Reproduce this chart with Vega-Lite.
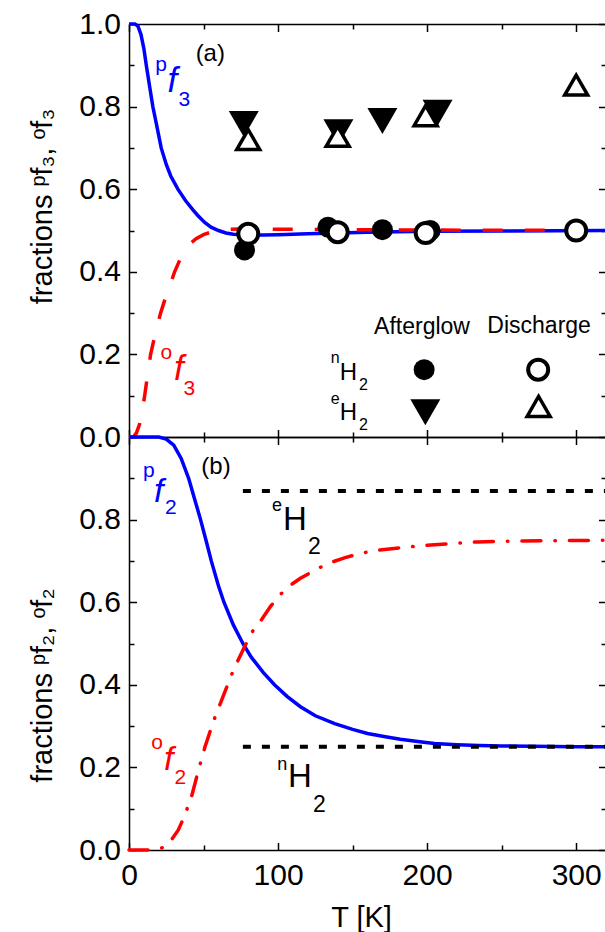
{
  "$schema": "https://vega.github.io/schema/vega-lite/v6.json",
  "padding": {"left": 28, "top": 9, "right": 0, "bottom": 0},
  "background": "white",
  "config": {
    "view": {"stroke": null},
    "font": "Liberation Sans",
    "axis": {
      "grid": false, "domainColor": "black", "domainWidth": 1.5, "tickColor": "black", "tickWidth": 1.5,
      "labelFont": "Liberation Sans", "labelFontSize": 30, "labelColor": "black",
      "labelFlush": false, "labelOverlap": false, "labelBound": false,
      "titleFont": "Liberation Sans", "titleFontSize": 29, "titleFontWeight": "normal", "titleColor": "black"
    }
  },
  "datasets": {
    "curves": [
      {"curve": "pf3", "T": 0, "f": 1}, {"curve": "pf3", "T": 4, "f": 1}, {"curve": "pf3", "T": 6, "f": 0.995}, {"curve": "pf3", "T": 8, "f": 0.975},
      {"curve": "pf3", "T": 10, "f": 0.94}, {"curve": "pf3", "T": 11.6, "f": 0.9}, {"curve": "pf3", "T": 14, "f": 0.845}, {"curve": "pf3", "T": 16, "f": 0.8},
      {"curve": "pf3", "T": 18, "f": 0.765}, {"curve": "pf3", "T": 21.6, "f": 0.7}, {"curve": "pf3", "T": 25, "f": 0.66}, {"curve": "pf3", "T": 28, "f": 0.632},
      {"curve": "pf3", "T": 32.8, "f": 0.6}, {"curve": "pf3", "T": 38, "f": 0.572}, {"curve": "pf3", "T": 42.9, "f": 0.55}, {"curve": "pf3", "T": 46, "f": 0.537},
      {"curve": "pf3", "T": 50.6, "f": 0.52}, {"curve": "pf3", "T": 55, "f": 0.508}, {"curve": "pf3", "T": 60, "f": 0.5}, {"curve": "pf3", "T": 65, "f": 0.494},
      {"curve": "pf3", "T": 70, "f": 0.491}, {"curve": "pf3", "T": 80, "f": 0.489}, {"curve": "pf3", "T": 90, "f": 0.489}, {"curve": "pf3", "T": 100, "f": 0.49},
      {"curve": "pf3", "T": 120, "f": 0.492}, {"curve": "pf3", "T": 140, "f": 0.494}, {"curve": "pf3", "T": 160, "f": 0.496}, {"curve": "pf3", "T": 180, "f": 0.497},
      {"curve": "pf3", "T": 200, "f": 0.498}, {"curve": "pf3", "T": 250, "f": 0.499}, {"curve": "pf3", "T": 320, "f": 0.5},
      {"curve": "of3", "T": 0, "f": 0}, {"curve": "of3", "T": 3, "f": 0}, {"curve": "of3", "T": 5, "f": 0.01}, {"curve": "of3", "T": 7, "f": 0.03},
      {"curve": "of3", "T": 9, "f": 0.065}, {"curve": "of3", "T": 10.5, "f": 0.1}, {"curve": "of3", "T": 12, "f": 0.138}, {"curve": "of3", "T": 14.5, "f": 0.2},
      {"curve": "of3", "T": 17, "f": 0.24}, {"curve": "of3", "T": 19, "f": 0.27}, {"curve": "of3", "T": 21.2, "f": 0.3}, {"curve": "of3", "T": 24, "f": 0.332},
      {"curve": "of3", "T": 27, "f": 0.362}, {"curve": "of3", "T": 30.6, "f": 0.4}, {"curve": "of3", "T": 34, "f": 0.428}, {"curve": "of3", "T": 37, "f": 0.45},
      {"curve": "of3", "T": 41, "f": 0.468}, {"curve": "of3", "T": 45, "f": 0.48}, {"curve": "of3", "T": 50, "f": 0.49}, {"curve": "of3", "T": 55, "f": 0.496},
      {"curve": "of3", "T": 60, "f": 0.5}, {"curve": "of3", "T": 66, "f": 0.503}, {"curve": "of3", "T": 80, "f": 0.504}, {"curve": "of3", "T": 100, "f": 0.503},
      {"curve": "of3", "T": 150, "f": 0.502}, {"curve": "of3", "T": 200, "f": 0.501}, {"curve": "of3", "T": 320, "f": 0.5},
      {"curve": "pf2", "T": 0, "f": 1}, {"curve": "pf2", "T": 20, "f": 1}, {"curve": "pf2", "T": 25, "f": 0.995}, {"curve": "pf2", "T": 30, "f": 0.98},
      {"curve": "pf2", "T": 35, "f": 0.948}, {"curve": "pf2", "T": 40, "f": 0.9}, {"curve": "pf2", "T": 44, "f": 0.85}, {"curve": "pf2", "T": 48, "f": 0.8},
      {"curve": "pf2", "T": 52, "f": 0.745}, {"curve": "pf2", "T": 55.2, "f": 0.7}, {"curve": "pf2", "T": 60, "f": 0.64}, {"curve": "pf2", "T": 63.7, "f": 0.6},
      {"curve": "pf2", "T": 70, "f": 0.545}, {"curve": "pf2", "T": 76.4, "f": 0.5}, {"curve": "pf2", "T": 82, "f": 0.467}, {"curve": "pf2", "T": 90, "f": 0.43},
      {"curve": "pf2", "T": 97.6, "f": 0.4}, {"curve": "pf2", "T": 106, "f": 0.372}, {"curve": "pf2", "T": 115, "f": 0.347}, {"curve": "pf2", "T": 125, "f": 0.325},
      {"curve": "pf2", "T": 138, "f": 0.306}, {"curve": "pf2", "T": 150, "f": 0.292}, {"curve": "pf2", "T": 160, "f": 0.282}, {"curve": "pf2", "T": 172, "f": 0.274},
      {"curve": "pf2", "T": 182, "f": 0.268}, {"curve": "pf2", "T": 195, "f": 0.262}, {"curve": "pf2", "T": 205, "f": 0.258}, {"curve": "pf2", "T": 220, "f": 0.255},
      {"curve": "pf2", "T": 235, "f": 0.253}, {"curve": "pf2", "T": 250, "f": 0.252}, {"curve": "pf2", "T": 270, "f": 0.251}, {"curve": "pf2", "T": 300, "f": 0.25},
      {"curve": "pf2", "T": 320, "f": 0.25},
      {"curve": "of2", "T": 0, "f": 0}, {"curve": "of2", "T": 15, "f": 0}, {"curve": "of2", "T": 20, "f": 0.002}, {"curve": "of2", "T": 24, "f": 0.008},
      {"curve": "of2", "T": 28, "f": 0.022}, {"curve": "of2", "T": 33, "f": 0.048}, {"curve": "of2", "T": 37, "f": 0.08}, {"curve": "of2", "T": 42, "f": 0.13},
      {"curve": "of2", "T": 46, "f": 0.185}, {"curve": "of2", "T": 51, "f": 0.25}, {"curve": "of2", "T": 57, "f": 0.315}, {"curve": "of2", "T": 63, "f": 0.371},
      {"curve": "of2", "T": 70, "f": 0.435}, {"curve": "of2", "T": 77.5, "f": 0.492}, {"curve": "of2", "T": 83, "f": 0.53}, {"curve": "of2", "T": 89, "f": 0.558},
      {"curve": "of2", "T": 95, "f": 0.59}, {"curve": "of2", "T": 100, "f": 0.613}, {"curve": "of2", "T": 107, "f": 0.638}, {"curve": "of2", "T": 115, "f": 0.658},
      {"curve": "of2", "T": 125, "f": 0.678}, {"curve": "of2", "T": 133, "f": 0.693}, {"curve": "of2", "T": 145, "f": 0.708}, {"curve": "of2", "T": 155, "f": 0.718},
      {"curve": "of2", "T": 167, "f": 0.726}, {"curve": "of2", "T": 185, "f": 0.733}, {"curve": "of2", "T": 200, "f": 0.738}, {"curve": "of2", "T": 220, "f": 0.743},
      {"curve": "of2", "T": 234, "f": 0.746}, {"curve": "of2", "T": 260, "f": 0.748}, {"curve": "of2", "T": 290, "f": 0.749}, {"curve": "of2", "T": 320, "f": 0.75},
      {"curve": "eH2", "T": 76.4, "f": 0.869}, {"curve": "eH2", "T": 320, "f": 0.869},
      {"curve": "nH2", "T": 76.4, "f": 0.25}, {"curve": "nH2", "T": 320, "f": 0.25}
    ],
    "points": [
      {"source": "Afterglow", "gas": "nH2", "key": false, "T": 77.5, "f": 0.453},
      {"source": "Afterglow", "gas": "nH2", "key": false, "T": 133.5, "f": 0.508},
      {"source": "Afterglow", "gas": "nH2", "key": false, "T": 170, "f": 0.502},
      {"source": "Afterglow", "gas": "nH2", "key": false, "T": 202, "f": 0.5},
      {"source": "Afterglow", "gas": "nH2", "key": true, "T": 198, "f": 0.163},
      {"source": "Discharge", "gas": "nH2", "key": false, "T": 80, "f": 0.492},
      {"source": "Discharge", "gas": "nH2", "key": false, "T": 140, "f": 0.496},
      {"source": "Discharge", "gas": "nH2", "key": false, "T": 199, "f": 0.494},
      {"source": "Discharge", "gas": "nH2", "key": false, "T": 300, "f": 0.5},
      {"source": "Discharge", "gas": "nH2", "key": true, "T": 274.5, "f": 0.163},
      {"source": "Afterglow", "gas": "eH2", "key": false, "T": 77, "f": 0.758},
      {"source": "Afterglow", "gas": "eH2", "key": false, "T": 140.5, "f": 0.738},
      {"source": "Afterglow", "gas": "eH2", "key": false, "T": 170, "f": 0.765},
      {"source": "Afterglow", "gas": "eH2", "key": false, "T": 207, "f": 0.785},
      {"source": "Afterglow", "gas": "eH2", "key": true, "T": 198.8, "f": 0.06},
      {"source": "Discharge", "gas": "eH2", "key": false, "T": 80, "f": 0.72},
      {"source": "Discharge", "gas": "eH2", "key": false, "T": 140, "f": 0.728},
      {"source": "Discharge", "gas": "eH2", "key": false, "T": 199, "f": 0.778},
      {"source": "Discharge", "gas": "eH2", "key": false, "T": 300, "f": 0.852},
      {"source": "Discharge", "gas": "eH2", "key": true, "T": 274.8, "f": 0.074}
    ],
    "labels": [
      {"panel": "a", "kind": "panel", "species": "ref", "T": 44.7, "f": 0.911, "text": "(a)"},
      {"panel": "a", "kind": "fsup", "species": "para", "T": 17.6, "f": 0.885, "text": "p"},
      {"panel": "a", "kind": "f", "species": "para", "T": 25.8, "f": 0.835, "text": "f"},
      {"panel": "a", "kind": "fsub", "species": "para", "T": 33.2, "f": 0.802, "text": "3"},
      {"panel": "a", "kind": "fsup", "species": "ortho", "T": 21.2, "f": 0.19, "text": "o"},
      {"panel": "a", "kind": "f", "species": "ortho", "T": 30.2, "f": 0.139, "text": "f"},
      {"panel": "a", "kind": "fsub", "species": "ortho", "T": 36.5, "f": 0.101, "text": "3"},
      {"panel": "a", "kind": "head", "species": "ref", "T": 164.4, "f": 0.25, "text": "Afterglow"},
      {"panel": "a", "kind": "head", "species": "ref", "T": 240.4, "f": 0.252, "text": "Discharge"},
      {"panel": "a", "kind": "lsup", "species": "ref", "T": 135.3, "f": 0.178, "text": "n"},
      {"panel": "a", "kind": "lH", "species": "ref", "T": 141.3, "f": 0.137, "text": "H"},
      {"panel": "a", "kind": "lsub", "species": "ref", "T": 154.3, "f": 0.115, "text": "2"},
      {"panel": "a", "kind": "lsup", "species": "ref", "T": 135.3, "f": 0.081, "text": "e"},
      {"panel": "a", "kind": "lH", "species": "ref", "T": 141.3, "f": 0.042, "text": "H"},
      {"panel": "a", "kind": "lsub", "species": "ref", "T": 154.3, "f": 0.018, "text": "2"},
      {"panel": "b", "kind": "panel", "species": "ref", "T": 48.5, "f": 0.911, "text": "(b)"},
      {"panel": "b", "kind": "fsup", "species": "para", "T": 9.4, "f": 0.903, "text": "p"},
      {"panel": "b", "kind": "f", "species": "para", "T": 16.8, "f": 0.843, "text": "f"},
      {"panel": "b", "kind": "fsub", "species": "para", "T": 24.2, "f": 0.814, "text": "2"},
      {"panel": "b", "kind": "fsup", "species": "ortho", "T": 14.9, "f": 0.244, "text": "o"},
      {"panel": "b", "kind": "f", "species": "ortho", "T": 23.5, "f": 0.194, "text": "f"},
      {"panel": "b", "kind": "fsub", "species": "ortho", "T": 30.5, "f": 0.16, "text": "2"},
      {"panel": "b", "kind": "hsup", "species": "ref", "T": 95.9, "f": 0.821, "text": "e"},
      {"panel": "b", "kind": "hH", "species": "ref", "T": 103.3, "f": 0.774, "text": "H"},
      {"panel": "b", "kind": "hsub", "species": "ref", "T": 120.1, "f": 0.716, "text": "2"},
      {"panel": "b", "kind": "hsup", "species": "ref", "T": 99.5, "f": 0.1935, "text": "n"},
      {"panel": "b", "kind": "hH", "species": "ref", "T": 106.7, "f": 0.152, "text": "H"},
      {"panel": "b", "kind": "hsub", "species": "ref", "T": 123.4, "f": 0.093, "text": "2"}
    ]
  },
  "spacing": 0,
  "bounds": "flush",
  "vconcat": [
    {
      "width": 477, "height": 413,
      "resolve": {"axis": {"x": "independent", "y": "independent"}},
      "encoding": {
        "x": {"field": "T", "type": "quantitative", "scale": {"domain": [0, 320], "nice": false, "zero": false}, "axis": null},
        "y": {"field": "f", "type": "quantitative", "scale": {"domain": [0, 1], "nice": false, "zero": false}, "axis": null}
      },
      "layer": [
        {
          "data": {"name": "curves"},
          "transform": [{"filter": "datum.curve === 'pf3'"}],
          "mark": {"type": "line", "color": "#0000ff", "strokeWidth": 3.5, "clip": false},
          "encoding": {
            "x": {"field": "T", "type": "quantitative", "scale": {"domain": [0, 320], "nice": false, "zero": false},
              "axis": {"orient": "bottom", "values": [0, 50, 100, 150, 200, 250, 300], "labels": false, "title": null,
                "tickSize": {"condition": {"test": "datum.value % 100 === 0", "value": -7.5}, "value": -5}}},
            "y": {"field": "f", "type": "quantitative", "scale": {"domain": [0, 1], "nice": false, "zero": false},
              "axis": {"orient": "left", "values": [0, 0.1, 0.2, 0.3, 0.4, 0.5, 0.6, 0.7, 0.8, 0.9, 1.0], "format": ".1f",
                "labelExpr": "round(datum.value*10) % 2 === 0 ? datum.label : ''",
                "tickSize": {"condition": {"test": "round(datum.value*10) % 2 === 0", "value": -7.5}, "value": -5},
                "labelPadding": 16,
                "title": "fractions ᵖf₃, ᵒf₃", "titleX": -78, "titleY": 182, "titleBaseline": "alphabetic", "titleAlign": "center", "titleAngle": 270}}
          }
        },
        {
          "data": {"name": "curves"},
          "transform": [{"filter": "datum.curve === 'of3'"}],
          "mark": {"type": "line", "color": "#ff0000", "strokeWidth": 3.5, "strokeDash": [20, 22], "clip": false},
          "encoding": {
            "x": {"field": "T", "type": "quantitative", "scale": {"domain": [0, 320], "nice": false, "zero": false},
              "axis": {"orient": "top", "values": [0, 50, 100, 150, 200, 250, 300], "labels": false, "title": null,
                "tickSize": {"condition": {"test": "datum.value % 100 === 0", "value": -7.5}, "value": -5}}},
            "y": {"field": "f", "type": "quantitative", "scale": {"domain": [0, 1], "nice": false, "zero": false},
              "axis": {"orient": "right", "values": [0, 0.1, 0.2, 0.3, 0.4, 0.5, 0.6, 0.7, 0.8, 0.9, 1.0], "labels": false, "title": null,
                "tickSize": {"condition": {"test": "round(datum.value*10) % 2 === 0", "value": -7.5}, "value": -5}}}
          }
        },
        {
          "data": {"name": "points"},
          "transform": [{"filter": "datum.source === 'Afterglow' && datum.gas === 'nH2'"}],
          "mark": {"type": "point", "shape": "circle", "filled": true, "color": "black", "size": 441, "opacity": 1}
        },
        {
          "data": {"name": "points"},
          "transform": [{"filter": "datum.source === 'Discharge' && datum.gas === 'nH2'"}],
          "mark": {"type": "point", "shape": "circle", "filled": true, "fill": "white", "stroke": "black", "strokeWidth": 4, "size": 400, "opacity": 1}
        },
        {
          "data": {"name": "points"},
          "transform": [{"filter": "datum.source === 'Afterglow' && datum.gas === 'eH2'"}],
          "mark": {"type": "point", "shape": "triangle-down", "filled": true, "color": "black", "size": 900, "opacity": 1}
        },
        {
          "data": {"name": "points"},
          "transform": [{"filter": "datum.source === 'Discharge' && datum.gas === 'eH2'"}],
          "mark": {"type": "point", "shape": "triangle-up", "filled": true, "fill": "white", "stroke": "black", "strokeWidth": 3.5, "size": 529, "opacity": 1}
        },
        {
          "data": {"name": "labels"},
          "transform": [{"filter": "datum.panel === 'a' && (datum.kind === 'panel' || datum.kind === 'lH')"}],
          "mark": {"type": "text", "align": "left", "baseline": "alphabetic", "font": "Liberation Sans", "fontSize": 24, "color": "black"},
          "encoding": {"text": {"field": "text"}}
        },
        {
          "data": {"name": "labels"},
          "transform": [{"filter": "datum.panel === 'a' && datum.kind === 'head'"}],
          "mark": {"type": "text", "align": "left", "baseline": "alphabetic", "font": "Liberation Sans", "fontSize": 23, "color": "black"},
          "encoding": {"text": {"field": "text"}}
        },
        {
          "data": {"name": "labels"},
          "transform": [{"filter": "datum.panel === 'a' && (datum.kind === 'lsup' || datum.kind === 'lsub')"}],
          "mark": {"type": "text", "align": "left", "baseline": "alphabetic", "font": "Liberation Sans", "fontSize": 16, "color": "black"},
          "encoding": {"text": {"field": "text"}}
        },
        {
          "data": {"name": "labels"},
          "transform": [{"filter": "datum.panel === 'a' && (datum.kind === 'fsup' || datum.kind === 'fsub')"}],
          "mark": {"type": "text", "align": "left", "baseline": "alphabetic", "font": "Liberation Sans", "fontSize": 21},
          "encoding": {
            "text": {"field": "text"},
            "color": {"field": "species", "type": "nominal", "scale": {"domain": ["para", "ortho", "ref"], "range": ["#0000ff", "#ff0000", "#000000"]}, "legend": null}
          }
        },
        {
          "data": {"name": "labels"},
          "transform": [{"filter": "datum.panel === 'a' && datum.kind === 'f'"}],
          "mark": {"type": "text", "align": "left", "baseline": "alphabetic", "font": "Liberation Sans", "fontStyle": "italic", "fontSize": 35},
          "encoding": {
            "text": {"field": "text"},
            "color": {"field": "species", "type": "nominal", "scale": {"domain": ["para", "ortho", "ref"], "range": ["#0000ff", "#ff0000", "#000000"]}, "legend": null}
          }
        }
      ]
    },
    {
      "width": 477, "height": 413,
      "resolve": {"axis": {"x": "independent", "y": "independent"}},
      "encoding": {
        "x": {"field": "T", "type": "quantitative", "scale": {"domain": [0, 320], "nice": false, "zero": false}, "axis": null},
        "y": {"field": "f", "type": "quantitative", "scale": {"domain": [0, 1], "nice": false, "zero": false}, "axis": null}
      },
      "layer": [
        {
          "data": {"name": "curves"},
          "transform": [{"filter": "datum.curve === 'pf2'"}],
          "mark": {"type": "line", "color": "#0000ff", "strokeWidth": 3.5, "clip": false},
          "encoding": {
            "x": {"field": "T", "type": "quantitative", "scale": {"domain": [0, 320], "nice": false, "zero": false},
              "axis": {"orient": "bottom", "values": [0, 50, 100, 150, 200, 250, 300], "labelExpr": "datum.value % 100 === 0 ? datum.label : ''",
                "tickSize": {"condition": {"test": "datum.value % 100 === 0", "value": -7.5}, "value": -5},
                "labelPadding": 18,
                "title": "T [K]", "titleX": 232, "titleY": 76, "titleBaseline": "alphabetic", "titleAlign": "center"}},
            "y": {"field": "f", "type": "quantitative", "scale": {"domain": [0, 1], "nice": false, "zero": false},
              "axis": {"orient": "left", "values": [0, 0.1, 0.2, 0.3, 0.4, 0.5, 0.6, 0.7, 0.8, 0.9], "format": ".1f",
                "labelExpr": "round(datum.value*10) % 2 === 0 ? datum.label : ''",
                "tickSize": {"condition": {"test": "round(datum.value*10) % 2 === 0", "value": -7.5}, "value": -5},
                "labelPadding": 16,
                "title": "fractions ᵖf₂, ᵒf₂", "titleX": -78, "titleY": 248, "titleBaseline": "alphabetic", "titleAlign": "center", "titleAngle": 270}}
          }
        },
        {
          "data": {"name": "curves"},
          "transform": [{"filter": "datum.curve === 'of2'"}],
          "mark": {"type": "line", "color": "#ff0000", "strokeWidth": 3.5, "strokeDash": [19, 14, 0.5, 14], "strokeCap": "round", "clip": false},
          "encoding": {
            "x": {"field": "T", "type": "quantitative", "scale": {"domain": [0, 320], "nice": false, "zero": false},
              "axis": {"orient": "top", "values": [0, 50, 100, 150, 200, 250, 300], "labels": false, "title": null,
                "tickSize": {"condition": {"test": "datum.value % 100 === 0", "value": -7.5}, "value": -5}}},
            "y": {"field": "f", "type": "quantitative", "scale": {"domain": [0, 1], "nice": false, "zero": false},
              "axis": {"orient": "right", "values": [0, 0.1, 0.2, 0.3, 0.4, 0.5, 0.6, 0.7, 0.8, 0.9], "labels": false, "title": null,
                "tickSize": {"condition": {"test": "round(datum.value*10) % 2 === 0", "value": -7.5}, "value": -5}}}
          }
        },
        {
          "data": {"name": "curves"},
          "transform": [{"filter": "datum.curve === 'eH2' || datum.curve === 'nH2'"}],
          "mark": {"type": "line", "color": "black", "strokeWidth": 4, "strokeDash": [8, 11], "clip": false},
          "encoding": {"detail": {"field": "curve"}}
        },
        {
          "data": {"name": "labels"},
          "transform": [{"filter": "datum.panel === 'b' && datum.kind === 'panel'"}],
          "mark": {"type": "text", "align": "left", "baseline": "alphabetic", "font": "Liberation Sans", "fontSize": 24, "color": "black"},
          "encoding": {"text": {"field": "text"}}
        },
        {
          "data": {"name": "labels"},
          "transform": [{"filter": "datum.panel === 'b' && datum.kind === 'hH'"}],
          "mark": {"type": "text", "align": "left", "baseline": "alphabetic", "font": "Liberation Sans", "fontSize": 33, "color": "black"},
          "encoding": {"text": {"field": "text"}}
        },
        {
          "data": {"name": "labels"},
          "transform": [{"filter": "datum.panel === 'b' && datum.kind === 'hsup'"}],
          "mark": {"type": "text", "align": "left", "baseline": "alphabetic", "font": "Liberation Sans", "fontSize": 18, "color": "black"},
          "encoding": {"text": {"field": "text"}}
        },
        {
          "data": {"name": "labels"},
          "transform": [{"filter": "datum.panel === 'b' && datum.kind === 'hsub'"}],
          "mark": {"type": "text", "align": "left", "baseline": "alphabetic", "font": "Liberation Sans", "fontSize": 23, "color": "black"},
          "encoding": {"text": {"field": "text"}}
        },
        {
          "data": {"name": "labels"},
          "transform": [{"filter": "datum.panel === 'b' && (datum.kind === 'fsup' || datum.kind === 'fsub')"}],
          "mark": {"type": "text", "align": "left", "baseline": "alphabetic", "font": "Liberation Sans", "fontSize": 21},
          "encoding": {
            "text": {"field": "text"},
            "color": {"field": "species", "type": "nominal", "scale": {"domain": ["para", "ortho", "ref"], "range": ["#0000ff", "#ff0000", "#000000"]}, "legend": null}
          }
        },
        {
          "data": {"name": "labels"},
          "transform": [{"filter": "datum.panel === 'b' && datum.kind === 'f'"}],
          "mark": {"type": "text", "align": "left", "baseline": "alphabetic", "font": "Liberation Sans", "fontStyle": "italic", "fontSize": 34},
          "encoding": {
            "text": {"field": "text"},
            "color": {"field": "species", "type": "nominal", "scale": {"domain": ["para", "ortho", "ref"], "range": ["#0000ff", "#ff0000", "#000000"]}, "legend": null}
          }
        }
      ]
    }
  ]
}
